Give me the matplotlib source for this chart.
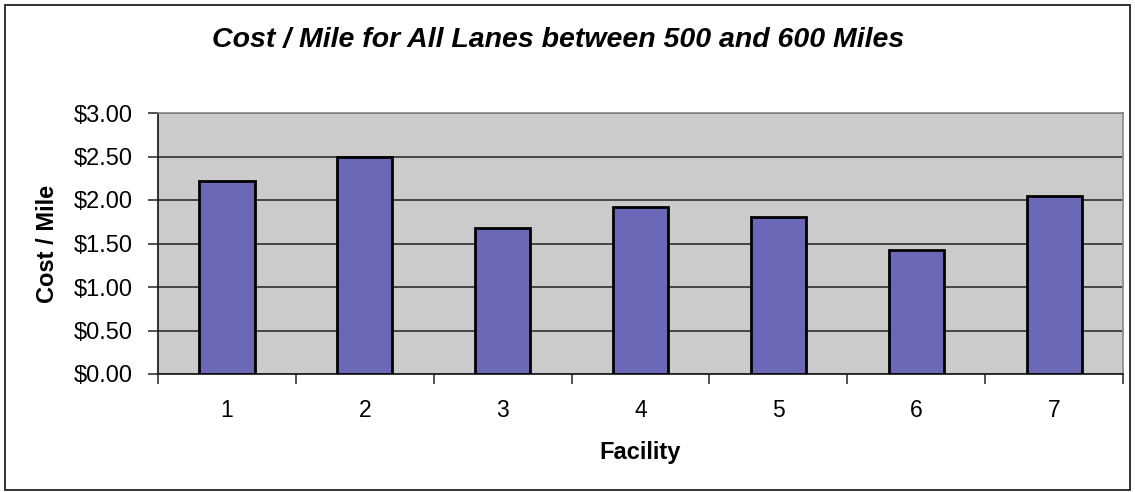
import matplotlib
matplotlib.use("Agg")
import matplotlib.pyplot as plt
from matplotlib.patches import Rectangle
from matplotlib.ticker import FuncFormatter, FixedLocator
import numpy as np

facilities = ["1", "2", "3", "4", "5", "6", "7"]
cost_per_mile = [2.22, 2.50, 1.68, 1.92, 1.81, 1.43, 2.05]
y_ticks = [0.0, 0.5, 1.0, 1.5, 2.0, 2.5, 3.0]

plt.rcParams["font.family"] = ["Liberation Sans", "DejaVu Sans"]

fig = plt.figure(figsize=(11.35, 4.92), dpi=100)
fig.patch.set_facecolor("white")

# Outer chart border
fig.patches.append(Rectangle((5 / 1135, 2 / 492), 1125 / 1135, 485 / 492,
                             transform=fig.transFigure, fill=False,
                             edgecolor="#222222", linewidth=1.3))

ax = fig.add_axes([158 / 1135, 118 / 492, 965 / 1135, 261 / 492])
ax.set_facecolor("#cbcbcb")

x = np.arange(len(facilities))
ax.bar(x, cost_per_mile, width=0.4, color="#6b68b8", edgecolor="black",
       linewidth=2.0, zorder=3)

ax.set_xlim(-0.5, len(facilities) - 0.5)
ax.set_ylim(0, 3.0)
ax.set_yticks(y_ticks)
ax.yaxis.set_major_formatter(FuncFormatter(lambda v, p: f"${v:.2f}"))
ax.grid(axis="y", color="#3a3a3a", linewidth=1.3, zorder=1)
ax.set_axisbelow(True)

ax.set_xticks(x)
ax.set_xticklabels(facilities)
ax.xaxis.set_minor_locator(FixedLocator(np.arange(-0.5, len(facilities), 1.0)))
ax.tick_params(axis="x", which="major", length=0, pad=18, labelsize=16.5)
ax.tick_params(axis="x", which="minor", length=7, width=1.2, direction="out",
               color="#333333")
ax.tick_params(axis="y", length=7, width=1.2, direction="out", pad=11.5,
               labelsize=17, color="#333333")

for side in ("top", "right"):
    ax.spines[side].set_color("#888888")
    ax.spines[side].set_linewidth(1.2)
for side in ("left", "bottom"):
    ax.spines[side].set_color("#222222")
    ax.spines[side].set_linewidth(1.3)

ax.set_xlabel("Facility", fontsize=17, fontweight="bold", labelpad=14)
ax.set_ylabel("Cost / Mile", fontsize=17, fontweight="bold", labelpad=10)

fig.text(0.492, 0.918, "Cost / Mile for All Lanes between 500 and 600 Miles",
         ha="center", va="center", fontsize=20.5, fontweight="bold",
         fontstyle="italic")

fig.savefig("out.png", dpi=100)
